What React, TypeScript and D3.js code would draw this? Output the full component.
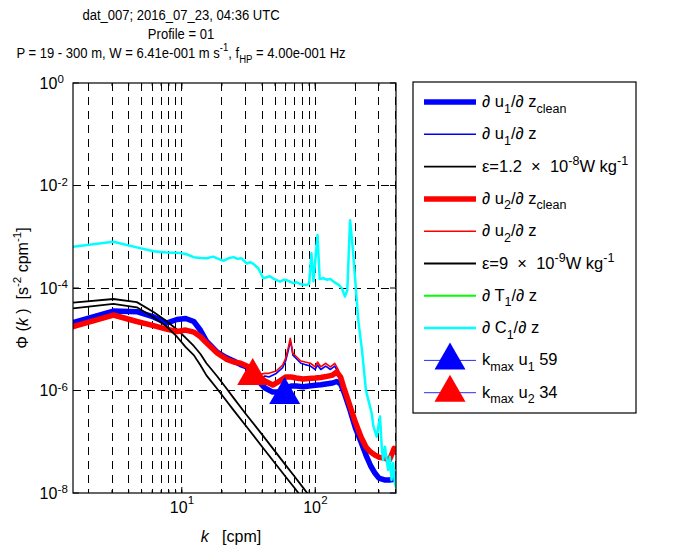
import React from "react";
import * as d3 from "d3";

// ---------- data ----------
const specK = [1.53, 3.07, 4.6, 6.14, 7.67, 9.2, 10.7, 12.3, 13.8, 15.3, 18.4, 21.5, 24.5, 27.6, 30.7, 33.7, 36.8, 42, 48, 54, 60, 66, 72, 81, 90, 100, 110, 120, 135, 145, 155, 165, 180, 200, 220, 240, 260, 280, 300, 330, 360, 390, 403];
const u1Clean = [2.1e-5, 3.55e-5, 3.45e-5, 2.72e-5, 2.07e-5, 2.43e-5, 2.54e-5, 2.22e-5, 1.5e-5, 9.2e-6, 5.6e-6, 4.4e-6, 3.77e-6, 3.2e-6, 2.88e-6, 2.3e-6, 1.6e-6, 1.12e-6, 9.3e-7, 9.3e-7, 1.12e-6, 1.22e-6, 1.22e-6, 1.18e-6, 1.22e-6, 1.26e-6, 1.29e-6, 1.34e-6, 1.4e-6, 1.5e-6, 1.34e-6, 9e-7, 4.6e-7, 1.85e-7, 1.0e-7, 5.5e-8, 3.4e-8, 2.45e-8, 1.95e-8, 1.8e-8, 1.8e-8, 1.85e-8, 2.3e-8];
const u2Clean = [1.76e-5, 2.97e-5, 2.22e-5, 1.85e-5, 1.58e-5, 1.42e-5, 1.51e-5, 1.38e-5, 1.12e-5, 8.5e-6, 5.4e-6, 4.1e-6, 3.6e-6, 3.4e-6, 3.0e-6, 2.5e-6, 2.0e-6, 1.53e-6, 1.28e-6, 1.53e-6, 1.83e-6, 1.83e-6, 1.75e-6, 1.68e-6, 1.72e-6, 1.75e-6, 1.8e-6, 1.87e-6, 2.0e-6, 2.3e-6, 1.83e-6, 1.07e-6, 5.5e-7, 2.4e-7, 1.25e-7, 7.9e-8, 6.3e-8, 5.5e-8, 5.0e-8, 4.8e-8, 4.4e-8, 7.4e-8, 6.5e-8];

// raw (uncleaned) spectra where they differ from the cleaned ones
const rawK = [42, 45, 51, 57, 60, 63, 65, 66.5, 68, 72, 78, 84, 92, 100, 104, 110, 120, 130, 140, 148];
const u1Raw = [1.92e-6, 1.83e-6, 2.15e-6, 2.8e-6, 3.77e-6, 6.2e-6, 9.2e-6, 7.1e-6, 4.9e-6, 4.2e-6, 3.4e-6, 3.2e-6, 3.0e-6, 2.57e-6, 3.15e-6, 2.57e-6, 3.0e-6, 2.57e-6, 3.0e-6, 2.3e-6];
const u2Raw = [2.16e-6, 2.16e-6, 2.4e-6, 3.15e-6, 4.25e-6, 7.1e-6, 1.04e-5, 7.5e-6, 5.3e-6, 4.6e-6, 3.77e-6, 3.6e-6, 3.4e-6, 2.9e-6, 3.6e-6, 2.9e-6, 3.4e-6, 2.9e-6, 3.4e-6, 2.6e-6];

const c1K = [1.53, 3.07, 4.6, 6.14, 7.67, 9.2, 10.7, 12.3, 13.8, 15.4, 17.2, 18.8, 20.5, 22.3, 24.4, 26.2, 28.1, 30.7, 32.5, 34.4, 37.5, 40.8, 45.8, 49, 54.5, 58, 61, 68.5, 72, 78, 86.5, 90, 93.6, 97, 104, 108, 115.2, 122, 130, 137, 150, 158, 167, 174, 182.4, 190.7, 198.6, 204.6, 210, 216, 224, 240, 265, 273, 289, 306, 315, 323, 333, 352, 362, 373, 384, 395, 403];
const c1Phi = [6.4e-4, 8.0e-4, 6.2e-4, 5.2e-4, 4.95e-4, 4.9e-4, 4.6e-4, 4.0e-4, 3.85e-4, 3.8e-4, 4.1e-4, 3.7e-4, 3.4e-4, 3.8e-4, 4.0e-4, 3.7e-4, 3.8e-4, 3.0e-4, 3.2e-4, 2.95e-4, 2.4e-4, 1.55e-4, 1.7e-4, 1.5e-4, 1.33e-4, 1.45e-4, 1.43e-4, 1.24e-4, 1.3e-4, 1.18e-4, 1.15e-4, 1.2e-4, 4.75e-4, 1.35e-4, 1.08e-3, 1.5e-4, 1.55e-4, 1.45e-4, 1.5e-4, 1.33e-4, 1.15e-4, 1.0e-4, 6.8e-5, 9.1e-5, 2.1e-3, 6.4e-4, 1.66e-4, 5.8e-5, 2.4e-5, 1.3e-5, 6.2e-6, 1.0e-6, 3.6e-7, 2.0e-7, 1.26e-7, 3.1e-7, 8.0e-8, 4.4e-8, 8.0e-8, 2.8e-8, 5.1e-8, 1.8e-8, 3.85e-8, 1.55e-8, 1.3e-8];

// Nasmyth spectra
const nasK = [1.53, 3.07, 4.6, 6.14, 7.67, 9.2, 10.7, 12.3, 13.8, 15.3, 18.4, 21.5, 24.5, 30.7, 40, 50, 60, 70, 80, 90];
const eps1Phi = [5.2e-5, 6.1e-5, 5.3e-5, 3.4e-5, 2.27e-5, 1.55e-5, 1.06e-5, 7.4e-6, 5.15e-6, 3.4e-6, 1.9e-6, 1.12e-6, 7.1e-7, 3.3e-7, 1.38e-7, 6.5e-8, 3.5e-8, 2.1e-8, 1.33e-8, 8.9e-9];
const eps2Phi = [4.0e-5, 4.9e-5, 4.2e-5, 2.68e-5, 1.79e-5, 1.12e-5, 7.0e-6, 4.9e-6, 3.1e-6, 1.97e-6, 1.08e-6, 6.4e-7, 4.1e-7, 1.94e-7, 8.0e-8, 3.8e-8, 2.08e-8, 1.25e-8, 8.0e-9, 5.5e-9];

// k_max markers (u1, u2)
const kmaxK = [59, 34];
const kmaxPhi = [8.2e-7, 1.92e-6];
const kmaxColors = ["#0000ff", "#ff0000"];

const xTicks = [10, 100];
const xTickExp = ["1", "2"];
const yTicks = [1, 1e-2, 1e-4, 1e-6, 1e-8];
const yTickExp = ["0", "-2", "-4", "-6", "-8"];
const yGrid = [1e-2, 1e-4, 1e-6];

const FONT = "'Liberation Sans', Arial, Helvetica, sans-serif";

type Seg = [string, "n" | "sub" | "sup" | "it"];

function rich(parts: Seg[], size: number, small: number, subShift = 5, supShift = -7) {
  let cur = 0;
  return parts.map(([t, m], i) => {
    const target = m === "sub" ? subShift : m === "sup" ? supShift : 0;
    const dy = target - cur;
    cur = target;
    return (
      <tspan
        key={i}
        dy={dy}
        fontSize={m === "sub" || m === "sup" ? small : size}
        fontStyle={m === "it" ? "italic" : undefined}
      >
        {t}
      </tspan>
    );
  });
}

const legendItems: { parts: Seg[]; color: string; width: number; marker?: string }[] = [
  { parts: [["∂ u", "n"], ["1", "sub"], ["/∂ z", "n"], ["clean", "sub"]], color: "#0000ff", width: 5.5 },
  { parts: [["∂ u", "n"], ["1", "sub"], ["/∂ z", "n"]], color: "#0000ff", width: 1.6 },
  { parts: [["ε=1.2  ×  10", "n"], ["-8", "sup"], ["W kg", "n"], ["-1", "sup"]], color: "#000000", width: 1.8 },
  { parts: [["∂ u", "n"], ["2", "sub"], ["/∂ z", "n"], ["clean", "sub"]], color: "#ff0000", width: 5.5 },
  { parts: [["∂ u", "n"], ["2", "sub"], ["/∂ z", "n"]], color: "#ff0000", width: 1.6 },
  { parts: [["ε=9  ×  10", "n"], ["-9", "sup"], ["W kg", "n"], ["-1", "sup"]], color: "#000000", width: 1.8 },
  { parts: [["∂ T", "n"], ["1", "sub"], ["/∂ z", "n"]], color: "#00ff00", width: 2 },
  { parts: [["∂ C", "n"], ["1", "sub"], ["/∂ z", "n"]], color: "#00ffff", width: 2.5 },
  { parts: [["k", "n"], ["max", "sub"], [" u", "n"], ["1", "sub"], [" 59", "n"]], color: "#2a2aff", width: 1, marker: "#0000ff" },
  { parts: [["k", "n"], ["max", "sub"], [" u", "n"], ["2", "sub"], [" 34", "n"]], color: "#2a2aff", width: 1, marker: "#ff0000" },
];

function tri(cx: number, cy: number) {
  // MATLAB '^' marker, centred on its centroid
  return `M${cx},${cy - 18}L${cx + 15.5},${cy + 9}L${cx - 15.5},${cy + 9}Z`;
}

export default function App() {
  const X0 = 73, X1 = 396, Y0 = 83, Y1 = 493;
  const x = d3.scaleLog().domain([1.53, 403]).range([X0, X1]);
  const y = d3.scaleLog().domain([1e-8, 1]).range([Y1, Y0]);
  const line = d3
    .line<[number, number]>()
    .x((d) => x(d[0]))
    .y((d) => y(d[1]));
  const zip = (k: number[], p: number[]) => k.map((v, i) => [v, p[i]] as [number, number]);

  const u1c = zip(specK, u1Clean);
  const u2c = zip(specK, u2Clean);
  const lo = rawK[0], hi = rawK[rawK.length - 1];
  const u1r = [...u1c.filter((d) => d[0] < lo), ...zip(rawK, u1Raw), ...u1c.filter((d) => d[0] > hi)];
  const u2r = [...u2c.filter((d) => d[0] < lo), ...zip(rawK, u2Raw), ...u2c.filter((d) => d[0] > hi)];

  const gridX = x.ticks().filter((v) => v > 1.6 && v < 402);
  const legX0 = 413, legY0 = 82, legW = 223, legH = 331;
  const entryY = (i: number) => 102 + i * 32.3;

  return (
    <svg
      width={674}
      height={550}
      style={{ position: "absolute", left: 0, top: 0, background: "#fff" }}
      fontFamily={FONT}
    >
      <rect x={0} y={0} width={674} height={550} fill="#fff" />
      <defs>
        <clipPath id="plotclip">
          <rect x={X0} y={Y0} width={X1 - X0} height={Y1 - Y0} />
        </clipPath>
      </defs>

      {/* title */}
      <g transform="translate(181,0) scale(0.87,1)" fontSize={15} textAnchor="middle" fill="#000">
        <text x={0} y={20.5}>dat_007; 2016_07_23, 04:36 UTC</text>
        <text x={0} y={39.5}>Profile = 01</text>
        <text x={0} y={58} style={{ whiteSpace: "pre" }}>
          {rich(
            [
              ["P = 19 - 300 m, W = 6.41e-001 m s", "n"],
              ["-1", "sup"],
              [", f", "n"],
              ["HP", "sub"],
              [" = 4.00e-001 Hz", "n"],
            ],
            15,
            11,
            5,
            -7
          )}
        </text>
      </g>

      {/* grid */}
      <g stroke="#000" strokeWidth={1} strokeDasharray="8,6" shapeRendering="crispEdges">
        {gridX.map((v) => (
          <line key={"gx" + v} x1={x(v)} x2={x(v)} y1={Y0} y2={Y1} />
        ))}
        {yGrid.map((v) => (
          <line key={"gy" + v} x1={X0} x2={X1} y1={y(v)} y2={y(v)} />
        ))}
      </g>

      {/* data */}
      <g clipPath="url(#plotclip)" fill="none" strokeLinejoin="round" strokeLinecap="round">
        <path d={line(u1c) || ""} stroke="#0000ff" strokeWidth={5.5} />
        <path d={line(u1r) || ""} stroke="#0000ff" strokeWidth={1.6} />
        <path d={line(zip(nasK, eps1Phi)) || ""} stroke="#000" strokeWidth={1.8} />
        <path d={line(u2c) || ""} stroke="#ff0000" strokeWidth={5.5} />
        <path d={line(u2r) || ""} stroke="#ff0000" strokeWidth={1.6} />
        <path d={line(zip(nasK, eps2Phi)) || ""} stroke="#000" strokeWidth={1.8} />
        <path d={line(zip(c1K, c1Phi)) || ""} stroke="#00ffff" strokeWidth={2.5} />
        {kmaxK.map((k, i) => (
          <path key={"m" + i} d={tri(x(k), y(kmaxPhi[i]))} fill={kmaxColors[i]} stroke="none" />
        ))}
      </g>

      {/* axes box and ticks */}
      <rect x={X0} y={Y0} width={X1 - X0} height={Y1 - Y0} fill="none" stroke="#000" strokeWidth={1.2} />
      <g stroke="#000" strokeWidth={1}>
        {gridX.map((v) => (
          <g key={"tx" + v}>
            <line x1={x(v)} x2={x(v)} y1={Y1} y2={Y1 - 3} />
            <line x1={x(v)} x2={x(v)} y1={Y0} y2={Y0 + 3} />
          </g>
        ))}
        {xTicks.map((v) => (
          <g key={"TX" + v}>
            <line x1={x(v)} x2={x(v)} y1={Y1} y2={Y1 - 6} />
            <line x1={x(v)} x2={x(v)} y1={Y0} y2={Y0 + 6} />
          </g>
        ))}
        {yTicks.map((v) => (
          <g key={"TY" + v}>
            <line x1={X0} x2={X0 + 6} y1={y(v)} y2={y(v)} />
            <line x1={X1} x2={X1 - 6} y1={y(v)} y2={y(v)} />
          </g>
        ))}
      </g>

      {/* tick labels */}
      <g fill="#000">
        {yTicks.map((v, i) => (
          <g key={"yl" + v}>
            <text x={57.3} y={y(v) + 5.8} fontSize={16} textAnchor="end">10</text>
            <text x={57.6} y={y(v) + 0.3} fontSize={11.5}>{yTickExp[i]}</text>
          </g>
        ))}
        {xTicks.map((v, i) => (
          <g key={"xl" + v}>
            <text x={x(v) - 12} y={513.3} fontSize={16}>10</text>
            <text x={x(v) + 5.9} y={504} fontSize={11.5}>{xTickExp[i]}</text>
          </g>
        ))}
      </g>

      {/* axis labels */}
      <text x={231} y={542} fontSize={16} textAnchor="middle" style={{ whiteSpace: "pre" }}>
        <tspan fontStyle="italic">k</tspan>
        <tspan>{"   [cpm]"}</tspan>
      </text>
      <text
        transform="translate(28,288) rotate(-90)"
        x={0}
        y={0}
        fontSize={16}
        textAnchor="middle"
        style={{ whiteSpace: "pre" }}
      >
        {rich(
          [
            ["Φ (", "n"],
            ["k", "it"],
            [" )  [s", "n"],
            ["-2", "sup"],
            [" cpm", "n"],
            ["-1", "sup"],
            ["]", "n"],
          ],
          16,
          11.5,
          5,
          -7
        )}
      </text>

      {/* legend */}
      <rect x={legX0} y={legY0} width={legW} height={legH} fill="#fff" stroke="#000" strokeWidth={1.2} />
      {legendItems.map((it, i) => {
        const ly = entryY(i);
        return (
          <g key={"lg" + i}>
            <line x1={424} x2={476} y1={ly} y2={ly} stroke={it.color} strokeWidth={it.width} />
            {it.marker && <path d={tri(450, ly)} fill={it.marker} />}
            <text x={482} y={ly + 5} fontSize={16.5} style={{ whiteSpace: "pre" }}>
              {rich(it.parts, 16.5, 12.5, 5.5, -7)}
            </text>
          </g>
        );
      })}
    </svg>
  );
}
